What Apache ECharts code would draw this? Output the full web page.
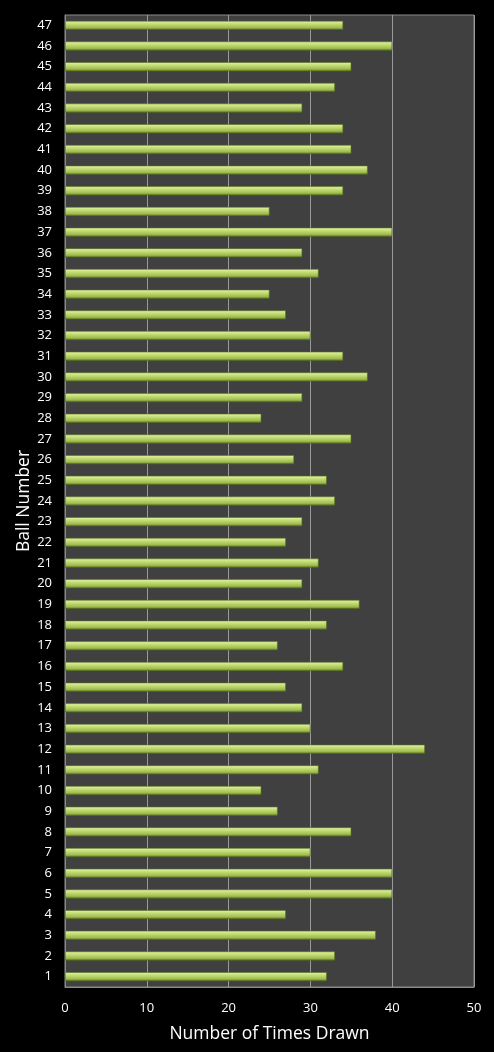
<!DOCTYPE html>
<html>
<head>
<meta charset="utf-8">
<script src="https://cdn.jsdelivr.net/npm/echarts@6/dist/echarts.min.js"></script>
<style>
html,body{margin:0;padding:0;background:#000;}
#c{width:494px;height:1052px;}
</style>
</head>
<body>
<div id="c"></div>
<script>
const balls = [];
for (let i = 1; i <= 47; i++) balls.push(String(i));
const timesDrawn = [32,33,38,27,40,40,30,35,26,24,31,44,30,29,27,34,26,32,36,29,31,27,29,33,32,28,35,24,29,37,34,30,27,25,31,29,40,25,34,37,35,34,29,33,35,40,34];
const xTicks = [0,10,20,30,40,50];

const chart = echarts.init(document.getElementById('c'));
chart.setOption({
  backgroundColor: '#000',
  animation: false,
  textStyle: { fontFamily: 'Open Sans' },
  grid: {
    left: 65, right: 20, top: 15, bottom: 65,
    show: true, backgroundColor: '#404040', borderColor: '#8a8a8a', borderWidth: 1
  },
  xAxis: {
    type: 'value', min: 0, max: 50, interval: 10,
    name: 'Number of Times Drawn', nameLocation: 'middle', nameGap: 38,
    nameMoveOverlap: false,
    nameTextStyle: { color: '#fff', fontSize: 17.5, fontFamily: 'Open Sans' },
    axisLine: { show: true, lineStyle: { color: '#8a8a8a' } },
    axisTick: { show: false },
    axisLabel: { color: '#fff', fontSize: 13, margin: 15 },
    splitLine: { show: true, lineStyle: { color: '#9a9a9a', width: 1 } }
  },
  yAxis: {
    type: 'category', data: balls,
    name: 'Ball Number', nameLocation: 'middle', nameGap: 32, nameRotate: 90,
    nameMoveOverlap: false,
    nameTextStyle: { color: '#fff', fontSize: 17.5, fontFamily: 'Open Sans' },
    axisLine: { show: true, lineStyle: { color: '#8a8a8a' } },
    axisTick: { show: false },
    axisLabel: { color: '#fff', fontSize: 13, margin: 13 },
    splitLine: { show: false }
  },
  series: [{
    type: 'bar',
    data: timesDrawn,
    barWidth: 9,
    itemStyle: {
      color: new echarts.graphic.LinearGradient(0, 0, 0, 1, [
        { offset: 0, color: '#e6f5ab' },
        { offset: 0.35, color: '#c4dc74' },
        { offset: 0.75, color: '#a0bc50' },
        { offset: 1, color: '#5e7a22' }
      ]),
      borderColor: '#56701e',
      borderWidth: 0.6
    }
  }]
});
</script>
</body>
</html>
